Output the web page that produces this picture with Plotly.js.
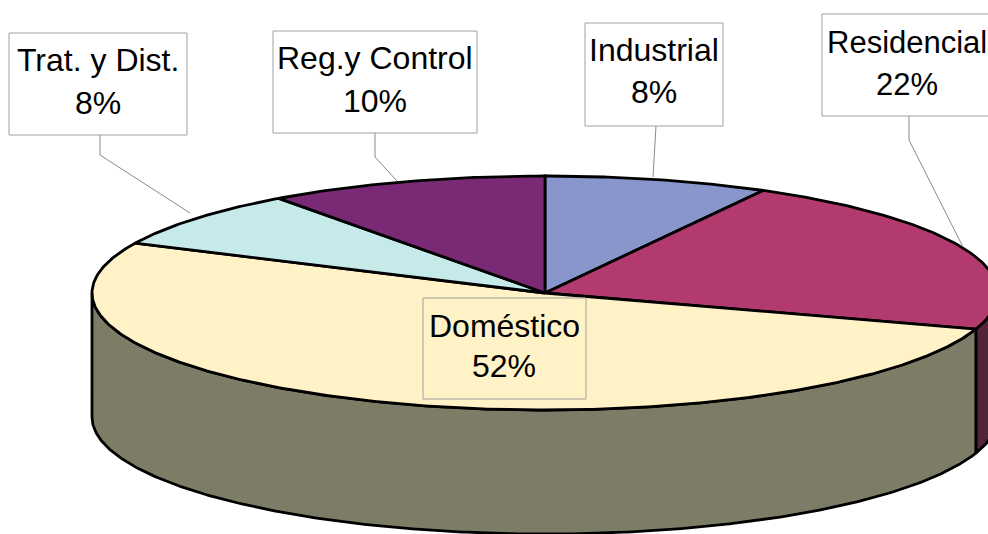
<!DOCTYPE html>
<html>
<head>
<meta charset="utf-8">
<script src="https://cdn.plot.ly/plotly-3.0.1.min.js"></script>
<style>html,body{margin:0;padding:0;background:#fff;}#chart{width:988px;height:534px;}</style>
</head>
<body>
<div id="chart"></div>
<script>
// ---- data ----
const names = ['Industrial', 'Residencial', 'Doméstico', 'Trat. y Dist.', 'Reg.y Control'];
const values = [8, 22, 52, 8, 10];
const topColors = ['#8896CC', '#B33A6E', '#FFF2C6', '#C6E9EA', '#7A2A74'];
const sideColors = ['#4C5370', '#54233A', '#7D7D67', '#6E8182', '#431740'];

// ---- geometry (layout) ----
const G = {cx: 545, cy: 293, rx: 453, ry: 117, depth: 124};
function pt(deg, dy) {
  const r = deg * Math.PI / 180;
  return [G.cx + G.rx * Math.sin(r), G.cy - G.ry * Math.cos(r) + (dy || 0)];
}
function arc(a, b, dy) {
  const out = [];
  const n = Math.max(2, Math.ceil(Math.abs(b - a) / 0.5));
  for (let i = 0; i <= n; i++) out.push(pt(a + (b - a) * i / n, dy));
  return out;
}
const total = values.reduce((s, v) => s + v, 0);
const angles = [];
let acc = 0;
values.forEach(v => { const a = acc / total * 360; acc += v; angles.push([a, acc / total * 360]); });

const sideTraces = [], topTraces = [];
angles.forEach(([a, b], i) => {
  const s = Math.max(a, 90), e = Math.min(b, 270);
  if (e > s) {
    const pts = arc(s, e, 0).concat(arc(e, s, G.depth));
    pts.push(pts[0]);
    sideTraces.push({
      type: 'scatter', mode: 'lines', fill: 'toself',
      x: pts.map(p => p[0]), y: pts.map(p => p[1]),
      fillcolor: sideColors[i], line: {color: '#000', width: 2.8},
      hoverinfo: 'skip', showlegend: false
    });
  }
  const tp = [[G.cx, G.cy]].concat(arc(a, b, 0));
  tp.push([G.cx, G.cy]);
  topTraces.push({
    type: 'scatter', mode: 'lines', fill: 'toself',
    x: tp.map(p => p[0]), y: tp.map(p => p[1]),
    fillcolor: topColors[i], line: {color: '#000', width: 2.8},
    hoverinfo: 'skip', showlegend: false
  });
});

// ---- labels (layout positions) ----
const boxes = [
  {x0: 585, x1: 723, y0: 23, y1: 126, tx: 654, ty1: 50, ty2: 92, fs: 32, fill: '#fff', leader: [[656,126],[653,177]]},
  {x0: 822, x1: 1002, y0: 14, y1: 116, tx: 907, ty1: 42, ty2: 84, fs: 31, fill: '#fff', leader: [[909,116],[909,140],[963,247]]},
  {x0: 423, x1: 586, y0: 298, y1: 399, tx: 504, ty1: 326, ty2: 366, fs: 32, fill: 'rgba(0,0,0,0)', leader: null},
  {x0: 9, x1: 187, y0: 33, y1: 135, tx: 98, ty1: 60, ty2: 103, fs: 32, fill: '#fff', leader: [[100,135],[100,155],[190,213]]},
  {x0: 273, x1: 477, y0: 31, y1: 133, tx: 375, ty1: 58, ty2: 101, fs: 32, fill: '#fff', leader: [[375,133],[375,157],[397,181]]}
];
const shapes = [], annotations = [];
boxes.forEach((b, i) => {
  const font = {family: 'Liberation Sans, Arial, sans-serif', size: b.fs, color: '#000'};
  if (b.leader) {
    for (let k = 0; k < b.leader.length - 1; k++) {
      shapes.push({type: 'line', xref: 'x', yref: 'y', x0: b.leader[k][0], y0: b.leader[k][1],
        x1: b.leader[k+1][0], y1: b.leader[k+1][1], line: {color: '#8a8a8a', width: 1}});
    }
  }
  shapes.push({type: 'rect', xref: 'x', yref: 'y', x0: b.x0, x1: b.x1, y0: b.y0, y1: b.y1,
    fillcolor: b.fill, line: {color: '#a0a0a0', width: 1}});
  const pct = Math.round(values[i] / total * 100) + '%';
  annotations.push({xref: 'x', yref: 'y', x: b.tx, y: b.ty1, text: names[i], showarrow: false, font: font, xanchor: 'center', yanchor: 'middle'});
  annotations.push({xref: 'x', yref: 'y', x: b.tx, y: b.ty2, text: pct, showarrow: false, font: font, xanchor: 'center', yanchor: 'middle'});
});

const layout = {
  width: 988, height: 534,
  margin: {l: 0, r: 0, t: 0, b: 0, pad: 0},
  paper_bgcolor: '#fff', plot_bgcolor: '#fff',
  showlegend: false,
  xaxis: {range: [0, 988], visible: false, fixedrange: true},
  yaxis: {range: [534, 0], visible: false, fixedrange: true},
  shapes: shapes,
  annotations: annotations
};
Plotly.newPlot('chart', sideTraces.concat(topTraces), layout, {staticPlot: true, displayModeBar: false});
</script>
</body>
</html>
